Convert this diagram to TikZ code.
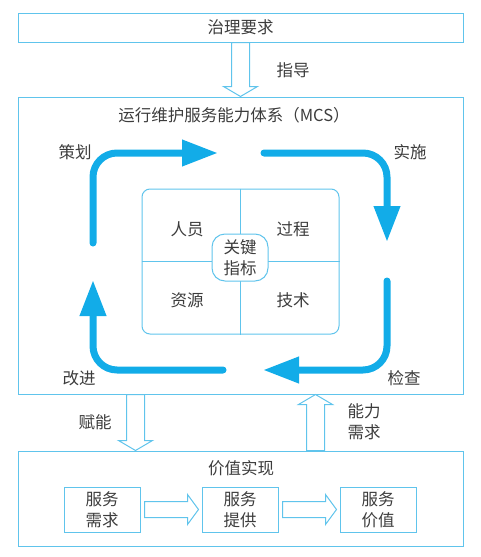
\documentclass[tikz,border=0pt]{standalone}
\usepackage{fontspec}
\setmainfont{Noto Sans CJK SC}
\usetikzlibrary{arrows.meta,calc}

\definecolor{boxblue}{RGB}{96,196,236}
\definecolor{cycblue}{RGB}{18,172,232}
\definecolor{txtgray}{RGB}{60,60,60}

% hollow block arrows: vertical (sign 1 = down, -1 = up) and left-to-right
\newcommand{\hollowv}[3]{%
  \draw[hollow] let \p1=(#1), \p2=(#2) in
    (\x1-9pt,\y1) -- (\x1-9pt,\y2+#3*10pt) -- (\x1-17pt,\y2+#3*10pt) -- (\x1,\y2)
    -- (\x1+17pt,\y2+#3*10pt) -- (\x1+9pt,\y2+#3*10pt) -- (\x1+9pt,\y1) -- cycle;}
\newcommand{\hollowh}[2]{%
  \draw[hollow] let \p1=(#1), \p2=(#2) in
    (\x1+4pt,\y1+8pt) -- (\x2-14pt,\y1+8pt) -- (\x2-14pt,\y1+15pt) -- (\x2-3pt,\y1)
    -- (\x2-14pt,\y1-15pt) -- (\x2-14pt,\y1-8pt) -- (\x1+4pt,\y1-8pt) -- cycle;}

\begin{document}
\begin{tikzpicture}[x=1pt,y=-1pt,
  box/.style={draw=boxblue,line width=1pt,text=txtgray,font=\fontsize{16.5}{21}\selectfont,align=center,inner sep=0pt},
  lbl/.style={text=txtgray,font=\fontsize{16.5}{21}\selectfont,align=center,inner sep=1pt},
  hollow/.style={draw=boxblue,line width=1pt,fill=white},
  cyclearrow/.style={draw=cycblue,line width=7pt,line cap=round,rounded corners=24pt,-{Triangle[length=36pt,width=25pt]}}]
  \useasboundingbox (0,0) rectangle (480,557);

  % three layers
  \node[box,minimum width=445pt,minimum height=29pt] (gov) at (240.5,27.5) {治理要求};
  \node[box,minimum width=445pt,minimum height=297pt] (mcs) at (240.5,245.5) {};
  \node[box,minimum width=445pt,minimum height=95pt] (value) at (240.5,498.5) {};
  \node[lbl] (mcstitle) at (234,115) {运行维护服务能力体系（MCS）};
  \node[lbl] (valuetitle) at (241,468) {价值实现};

  % links between layers
  \hollowv{gov.south}{mcs.north}{1}
  \node[lbl] (guide) at (293,70) {指导};
  \hollowv{[xshift=-105pt]mcs.south}{[xshift=-105pt]value.north}{1}
  \node[lbl] (enable) at (95,422) {赋能};
  \hollowv{[xshift=75pt]value.north}{[xshift=75pt]mcs.south}{-1}
  \node[lbl] (demand) at (364,422) {能力\\需求};

  % four elements
  \node[box,rounded corners=8pt,minimum width=197pt,minimum height=145pt] (grid) at (240.5,261.5) {};
  \draw[boxblue,line width=0.8pt] (grid.north) -- (grid.south) (grid.west) -- (grid.east);
  \node[box,rounded corners=13pt,fill=white,minimum width=56pt,minimum height=47pt] (key) at (240,257.5) {关键\\指标};
  \node[lbl] (people) at (187,229) {人员};
  \node[lbl] (process) at (293,229) {过程};
  \node[lbl] (resource) at (187,300) {资源};
  \node[lbl] (tech) at (293,300) {技术};

  % PDCA cycle
  \coordinate (planstart) at (93,243);
  \coordinate (planend) at (218,153);
  \coordinate (dostart) at (264,153);
  \coordinate (doend) at (387,242);
  \coordinate (checkstart) at (387,281);
  \coordinate (checkend) at (263,370);
  \coordinate (actstart) at (223,370);
  \coordinate (actend) at (93,280);
  \draw[cyclearrow] (planstart) |- (planend);
  \draw[cyclearrow] (dostart) -| (doend);
  \draw[cyclearrow] (checkstart) |- (checkend);
  \draw[cyclearrow] (actstart) -| (actend);
  \node[lbl] (plan) at (75,152) {策划};
  \node[lbl] (do) at (410,152) {实施};
  \node[lbl] (act) at (79,378) {改进};
  \node[lbl] (check) at (404,378) {检查};

  % value chain
  \node[box,minimum width=76pt,minimum height=45pt] (need) at (102,509.5) {服务\\需求};
  \node[box,minimum width=76pt,minimum height=45pt] (supply) at (240,509.5) {服务\\提供};
  \node[box,minimum width=76pt,minimum height=45pt] (worth) at (378,509.5) {服务\\价值};
  \hollowh{need.east}{supply.west}
  \hollowh{supply.east}{worth.west}
\end{tikzpicture}
\end{document}
